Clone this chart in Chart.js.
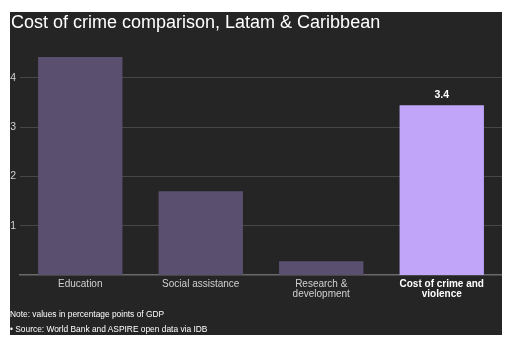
<!DOCTYPE html>
<html>
<head>
<meta charset="utf-8">
<script src="https://cdn.jsdelivr.net/npm/chart.js@4/dist/chart.umd.min.js"></script>
<style>
  html, body { margin: 0; padding: 0; background: #ffffff; }
  #panel { position: absolute; left: 10px; top: 12px; width: 492px; height: 323px; background: #252525; overflow: hidden; }
  #title { position: absolute; left: 1px; top: 0px; font-family: "Liberation Sans", Arial, sans-serif; font-size: 18px; color: #ffffff; white-space: nowrap; }
  .note { position: absolute; left: 0px; font-family: "Liberation Sans", Arial, sans-serif; font-size: 8.4px; color: #ffffff; white-space: nowrap; }
  #c { position: absolute; left: 0; top: 0; }
</style>
</head>
<body>
<div id="panel">
  <canvas id="c" width="492" height="323"></canvas>
  <div id="title">Cost of crime comparison, Latam &amp; Caribbean</div>
  <div class="note" style="top:297px">Note: values in percentage points of GDP</div>
  <div class="note" style="top:312px">• Source: World Bank and ASPIRE open data via IDB</div>
</div>
<script>
const categories = [["Education"], ["Social assistance"], ["Research &", "development"], ["Cost of crime and", "violence"]];
const values = [4.42, 1.70, 0.28, 3.44];
const barColors = ["#5b4f70", "#5b4f70", "#5b4f70", "#c1a5f8"];
const yTickValues = [1, 2, 3, 4];
const highlightIndex = 3;

const labelPlugin = {
  id: 'valLabel',
  afterDatasetsDraw(chart) {
    const ctx = chart.ctx;
    const meta = chart.getDatasetMeta(0);
    const el = meta.data[highlightIndex];
    ctx.save();
    ctx.font = 'bold 10.5px "Liberation Sans", Arial, sans-serif';
    ctx.fillStyle = '#ffffff';
    ctx.textAlign = 'center';
    ctx.textBaseline = 'bottom';
    ctx.fillText(values[highlightIndex].toFixed(1), el.x, el.y - 5);
    ctx.restore();
  }
};

new Chart(document.getElementById('c'), {
  type: 'bar',
  data: {
    labels: categories,
    datasets: [{ data: values, backgroundColor: barColors, barPercentage: 0.7, categoryPercentage: 1.0 }]
  },
  options: {
    responsive: false,
    animation: false,
    layout: { padding: { top: 41, right: 0, bottom: 0, left: 0 } },
    plugins: { legend: { display: false }, tooltip: { enabled: false } },
    scales: {
      x: {
        grid: { display: false, drawTicks: false },
        border: { display: true, color: '#6a6a6a', width: 1.5 },
        afterFit(s) { s.height = 60; },
        ticks: {
          padding: 4,
          maxRotation: 0,
          autoSkip: false,
          color: (c) => c.index === highlightIndex ? '#ffffff' : '#d0d0d0',
          font: (c) => ({ family: '"Liberation Sans", Arial, sans-serif', size: 10, weight: c.index === highlightIndex ? 'bold' : 'normal', lineHeight: 1.0 })
        }
      },
      y: {
        min: 0,
        max: 4.5,
        afterFit(s) { s.width = 10; },
        afterBuildTicks(s) { s.ticks = yTickValues.map(v => ({ value: v })); },
        border: { display: false },
        grid: { color: '#474747', lineWidth: 1, drawTicks: false },
        ticks: {
          padding: 4,
          color: '#d0d0d0',
          font: { family: '"Liberation Sans", Arial, sans-serif', size: 10.5 }
        }
      }
    }
  },
  plugins: [labelPlugin]
});
</script>
</body>
</html>
